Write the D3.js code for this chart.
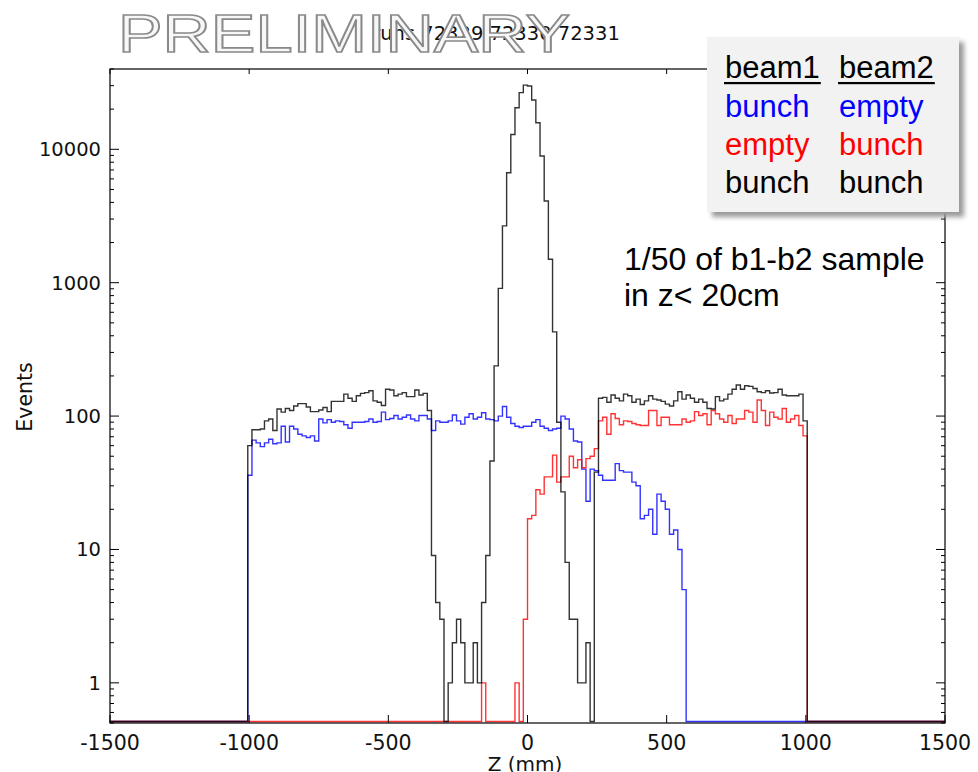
<!DOCTYPE html>
<html><head><meta charset="utf-8">
<script src="https://cdn.jsdelivr.net/npm/d3@7"></script>
<style>body{margin:0;background:#fff}</style></head>
<body>
<svg id="c" width="978" height="772"></svg>
<script>
// ---- data ----
const binStart = -1005, binWidth = 15;          // histogram binning in mm
const xTicks = [-1500, -1000, -500, 0, 500, 1000, 1500];
const yTicks = [1, 10, 100, 1000, 10000];
const yTickLabels = ["1", "10", "100", "1000", "10000"];
const titleText = "runs 72329 72330 72331";
const legendHeader = ["beam1", "beam2"];
const legendRows = [["bunch", "empty"], ["empty", "bunch"], ["bunch", "bunch"]];
const seriesNames = ["bunch-empty", "empty-bunch", "bunch-bunch"];
const seriesColors = ["#0000ff", "#ff0000", "#000000"];

// bunch/empty (blue)
const blueCounts = [
 36,66,63,59,63,67,62,63,84,64,84,80,73,71,69,71,65,95,89,94,90,92,91,86,81,90,90,90,91,95,
 90,91,107,94,96,101,95,98,102,95,92,101,101,95,78,92,90,90,92,102,92,87,98,104,95,98,106,95,94,92,
 100,118,98,88,84,82,84,84,90,94,84,81,78,80,81,100,95,80,65,64,40,23,40,39,36,33,33,33,44,39,
 38,38,32,30,17,18,20,13,26,23,20,13,14,10,5,0,0,0,0,0,0,0,0,0,0,0,0,0,0,0,
 0,0,0,0,0,0,0,0,0,0,0,0,0,0];
// empty/bunch (red)
const redCounts = [
 0,0,0,0,0,0,0,0,0,0,0,0,0,0,0,0,0,0,0,0,0,0,0,0,0,0,0,0,0,0,
 0,0,0,0,0,0,0,0,0,0,0,0,0,0,0,0,0,0,0,0,0,0,0,0,0,0,1,0,0,0,
 0,0,0,0,1,0,3,17,18,28,26,35,35,51,32,35,35,50,41,47,41,48,50,57,92,98,73,104,96,86,
 92,91,88,86,85,85,110,110,85,98,98,86,86,86,95,90,92,108,101,104,86,110,104,95,90,101,88,95,95,110,
 107,90,132,110,85,107,98,95,114,90,95,101,85,71];
// bunch/bunch x 1/50 (black)
const blackCounts = [
 60,79,79,80,92,95,78,113,107,114,110,119,124,124,117,108,108,111,116,108,129,129,129,146,136,129,142,148,150,155,
 130,127,120,159,157,142,146,150,140,140,157,144,148,110,9,4,3,0,1,2,3,2,1,1,2,1,4,9,46,238,
 906,2666,6680,12900,20500,26600,30300,29800,23400,15800,8900,4100,1500,428,90,27,8,3,3,1,1,2,0,38,136,138,127,144,136,130,
 146,142,127,134,122,130,142,134,132,129,123,119,130,152,134,144,136,127,134,127,114,113,140,130,134,146,159,171,159,169,
 167,161,152,150,155,149,150,159,144,142,142,142,146,92];

// ---- layout ----
const svg = d3.select("#c");
const W = 978, H = 772;
const plot = {left: 110, right: 945, top: 69, bottom: 723};
const x = d3.scaleLinear().domain([-1500, 1500]).range([plot.left, plot.right]);
const y = d3.scaleLog().domain([0.5, 40000]).range([plot.bottom, plot.top]);
const axisFont = "'DejaVu Sans', sans-serif";

svg.append("rect").attr("width", W).attr("height", H).attr("fill", "#fff");
const defs = svg.append("defs");
defs.append("filter").attr("id", "blur").append("feGaussianBlur").attr("stdDeviation", 2.5);

// clip
defs.append("clipPath").attr("id", "clip").append("rect")
  .attr("x", plot.left).attr("y", plot.top)
  .attr("width", plot.right - plot.left).attr("height", plot.bottom - plot.top);

// histogram step paths
const zeroLevel = y.invert(plot.bottom - 1.5);
function histPoints(counts) {
  const pts = [[-1500, zeroLevel], [binStart, zeroLevel]];
  counts.forEach((v, i) => {
    const lo = binStart + i * binWidth, hi = lo + binWidth;
    const vv = v > 0 ? v : zeroLevel;
    pts.push([lo, vv], [hi, vv]);
  });
  const end = binStart + counts.length * binWidth;
  pts.push([end, zeroLevel], [1500, zeroLevel]);
  return pts;
}
const line = d3.line().x(d => x(d[0])).y(d => y(d[1]));
const g = svg.append("g").attr("clip-path", "url(#clip)");
const allSeries = [blueCounts, redCounts, blackCounts];
allSeries.forEach((c, i) => {
  g.append("path").datum(histPoints(c))
    .attr("d", line).attr("fill", "none")
    .attr("stroke", seriesColors[i]).attr("stroke-width", 1.4)
    .attr("stroke-opacity", i === 2 ? 0.8 : 0.8)
    .attr("data-name", seriesNames[i]);
});

// frame
svg.append("rect").attr("x", plot.left).attr("y", plot.top)
  .attr("width", plot.right - plot.left).attr("height", plot.bottom - plot.top)
  .attr("fill", "none").attr("stroke", "#000").attr("stroke-width", 1.2);

// x ticks (inside, bottom and top)
const tg = svg.append("g").attr("stroke", "#000").attr("stroke-width", 1);
xTicks.forEach(t => {
  tg.append("line").attr("x1", x(t)).attr("x2", x(t)).attr("y1", plot.bottom).attr("y2", plot.bottom - 8);
  tg.append("line").attr("x1", x(t)).attr("x2", x(t)).attr("y1", plot.top).attr("y2", plot.top + 5);
});
// y ticks major + minor (inside, left and right)
const minor = [];
[0.1, 1, 10, 100, 1000, 10000].forEach(d => { for (let m = 2; m <= 9; m++) { const v = d * m; if (v >= 0.5 && v <= 40000) minor.push(v); } });
yTicks.forEach(t => {
  tg.append("line").attr("x1", plot.left).attr("x2", plot.left + 9).attr("y1", y(t)).attr("y2", y(t));
  tg.append("line").attr("x1", plot.right).attr("x2", plot.right - 9).attr("y1", y(t)).attr("y2", y(t));
});
minor.forEach(t => {
  tg.append("line").attr("x1", plot.left).attr("x2", plot.left + 4).attr("y1", y(t)).attr("y2", y(t));
  tg.append("line").attr("x1", plot.right).attr("x2", plot.right - 4).attr("y1", y(t)).attr("y2", y(t));
});

// tick labels
xTicks.forEach(t => {
  svg.append("text").attr("x", x(t)).attr("y", 750).attr("text-anchor", "middle")
    .attr("font-family", axisFont).attr("font-size", 20.5).attr("fill", "#111").text(t);
});
yTicks.forEach((t, i) => {
  svg.append("text").attr("x", 101).attr("y", y(t) + 7).attr("text-anchor", "end")
    .attr("font-family", axisFont).attr("font-size", 19.5).attr("fill", "#111").text(yTickLabels[i]);
});
// axis titles
svg.append("text").attr("x", 525).attr("y", 771).attr("text-anchor", "middle")
  .attr("font-family", axisFont).attr("font-size", 20).attr("fill", "#111").text("Z (mm)");
svg.append("text").attr("transform", "translate(32,397) rotate(-90)").attr("text-anchor", "middle")
  .attr("font-family", axisFont).attr("font-size", 20.5).attr("fill", "#111").text("Events");

// title + PRELIMINARY stamp
svg.append("text").attr("x", 496).attr("y", 40).attr("text-anchor", "middle")
  .attr("font-family", axisFont).attr("font-size", 19.5).attr("fill", "#111").text(titleText);
svg.append("text").attr("x", 118).attr("y", 52).attr("textLength", 452).attr("lengthAdjust", "spacingAndGlyphs")
  .attr("font-family", "'Liberation Sans', Arial, sans-serif").attr("font-size", 53)
  .attr("fill", "#f6f7f6").attr("stroke", "#8a8a8a").attr("stroke-width", 1.6).text("PRELIMINARY");

// legend box with shadow
const lb = {x: 707, y: 37, w: 252, h: 175};
svg.append("rect").attr("x", lb.x + 5).attr("y", lb.y + 5).attr("width", lb.w).attr("height", lb.h)
  .attr("fill", "#9a9a9a").attr("filter", "url(#blur)");
svg.append("rect").attr("x", lb.x).attr("y", lb.y).attr("width", lb.w).attr("height", lb.h).attr("fill", "#f2f2f2");
const legFont = "'Liberation Sans', Arial, sans-serif";
const colX = [725, 839];
legendHeader.forEach((h, j) => {
  const t = svg.append("text").attr("x", colX[j]).attr("y", 78).attr("font-family", legFont)
    .attr("font-size", 31).attr("fill", "#000").text(h);
  const w = t.node().getComputedTextLength();
  svg.append("rect").attr("x", colX[j] - 1).attr("y", 82).attr("width", w + 2).attr("height", 2.2).attr("fill", "#000");
});
const rowY = [117, 155, 193];
legendRows.forEach((r, i) => {
  r.forEach((s, j) => {
    svg.append("text").attr("x", colX[j]).attr("y", rowY[i]).attr("font-family", legFont)
      .attr("font-size", 31).attr("fill", seriesColors[i]).text(s);
  });
});

// annotation
svg.append("text").attr("x", 624).attr("y", 270).attr("font-family", legFont).attr("font-size", 32)
  .attr("fill", "#000").text("1/50 of b1-b2 sample");
svg.append("text").attr("x", 624).attr("y", 306).attr("font-family", legFont).attr("font-size", 32)
  .attr("fill", "#000").text("in z< 20cm");
</script>
</body></html>
